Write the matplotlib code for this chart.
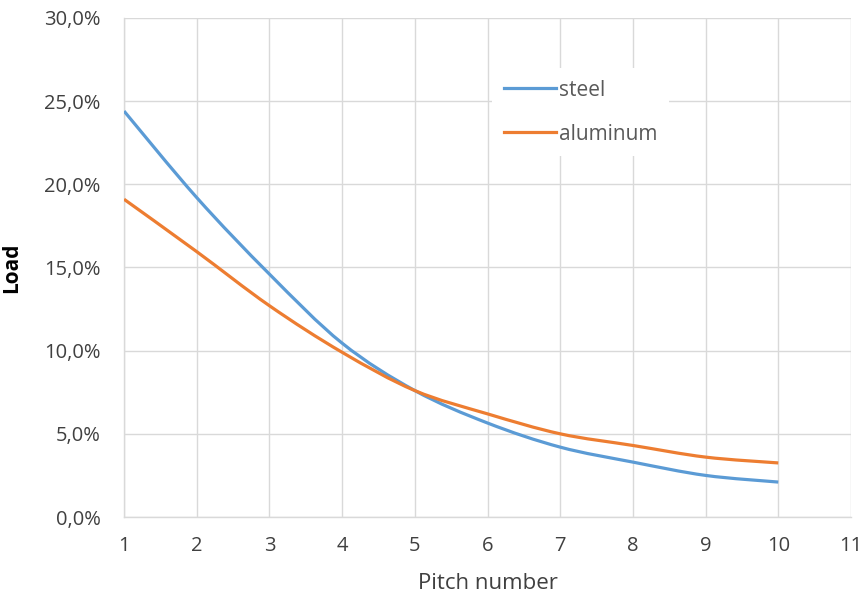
import numpy as np
import matplotlib.pyplot as plt
from matplotlib.path import Path
from matplotlib.patches import PathPatch
from matplotlib.lines import Line2D
from matplotlib.ticker import FuncFormatter

plt.rcParams['font.family'] = ['Open Sans', 'DejaVu Sans']

# values (load in %)
pitch = [1, 2, 3, 4, 5, 6, 7, 8, 9, 10]
steel = [24.4, 19.2, 14.6, 10.45, 7.6, 5.65, 4.2, 3.3, 2.5, 2.1]
aluminum = [19.1, 15.95, 12.7, 9.9, 7.6, 6.2, 5.0, 4.3, 3.6, 3.25]

series_names = ['steel', 'aluminum']
series_colors = ['#5B9BD5', '#ED7D31']
grey = '#595959'
grid_col = '#D9D9D9'


def smooth_path(x, y, t=1/6):
    # Excel-like smoothed line: cubic bezier through the points
    x = np.asarray(x, float)
    y = np.asarray(y, float)
    n = len(x)
    verts = [(x[0], y[0])]
    codes = [Path.MOVETO]
    for i in range(n - 1):
        x0, y0 = (x[i - 1], y[i - 1]) if i > 0 else (x[i], y[i])
        x3, y3 = (x[i + 2], y[i + 2]) if i + 2 < n else (x[i + 1], y[i + 1])
        c1 = (x[i] + (x[i + 1] - x0) * t, y[i] + (y[i + 1] - y0) * t)
        c2 = (x[i + 1] - (x3 - x[i]) * t, y[i + 1] - (y3 - y[i]) * t)
        verts += [c1, c2, (x[i + 1], y[i + 1])]
        codes += [Path.CURVE4] * 3
    return Path(verts, codes)


fig = plt.figure(figsize=(8.65, 5.97), dpi=100)
ax = fig.add_axes([0.1434, 0.134, 0.8404, 0.836])

for name, vals, col in zip(series_names, [steel, aluminum], series_colors):
    patch = PathPatch(smooth_path(pitch, vals), facecolor='none', edgecolor=col,
                      lw=2.3, capstyle='butt', zorder=3)
    ax.add_patch(patch)

ax.set_xlim(1, 11)
ax.set_ylim(0, 30)
ax.set_xticks(range(1, 12))
ax.set_yticks(np.arange(0, 31, 5))
ax.yaxis.set_major_formatter(FuncFormatter(lambda v, p: f'{v:.1f}%'.replace('.', ',')))

ax.grid(True, color=grid_col, lw=1)
ax.set_axisbelow(True)
for s in ['top', 'right']:
    ax.spines[s].set_visible(False)
for s in ['left', 'bottom']:
    ax.spines[s].set_color(grid_col)
    ax.spines[s].set_linewidth(1)
ax.tick_params(length=0, labelsize=14.5, colors='#404040')
ax.tick_params(axis='y', pad=17)
ax.tick_params(axis='x', pad=14)

ax.set_xlabel('Pitch number', fontsize=16, color='#404040', labelpad=12)
ax.set_ylabel('Load', fontsize=15, color='black', fontweight='bold')
ax.yaxis.set_label_coords(-0.14, 0.5)

handles = [Line2D([], [], color=c, lw=2.3) for c in series_colors]
leg = ax.legend(handles, series_names, loc='upper left', bbox_to_anchor=(0.492, 0.92),
                frameon=True, fontsize=15, handlelength=2.5, handletextpad=0.15,
                labelspacing=1.1, borderpad=0.55, labelcolor=grey)
leg.get_frame().set_edgecolor('none')
leg.get_frame().set_facecolor('white')
leg.get_frame().set_alpha(1)
leg.get_frame().set_boxstyle('square', pad=0)

fig.savefig('out.png', dpi=100)
